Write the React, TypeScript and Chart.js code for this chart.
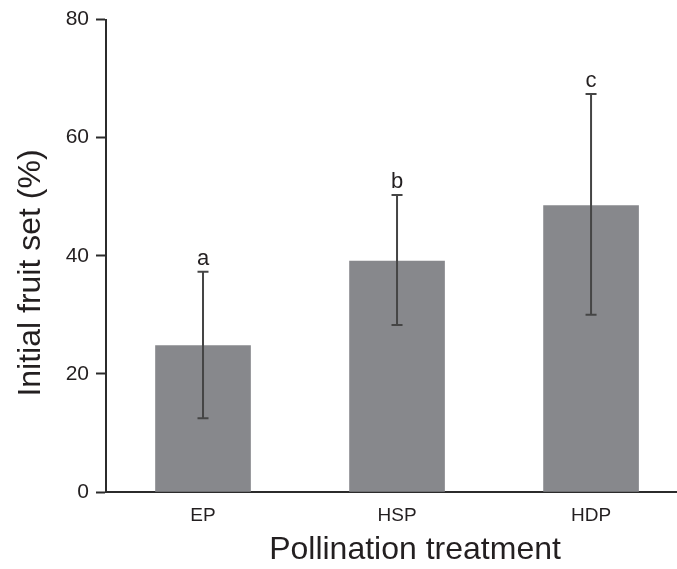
import React, { useEffect, useRef } from "react";
import { Chart, registerables } from "chart.js";

Chart.register(...registerables);

const categories = ["EP", "HSP", "HDP"];
const means = [24.8, 39.1, 48.5];
const upper = [37.3, 50.3, 67.4];
const lower = [12.5, 28.3, 30.0];
const letters = ["a", "b", "c"];
const yTicks = [0, 20, 40, 60, 80];
const xTitle = "Pollination treatment";
const yTitle = "Initial fruit set (%)";

const FONT = "'Liberation Sans', Arial, Helvetica, sans-serif";
const TEXT = "#231f20";
const AXIS = "#2b2b2b";

const errorPlugin = {
  id: "errorBars",
  afterDatasetsDraw(chart: any) {
    const { ctx, scales } = chart;
    const xs = scales.x;
    const ys = scales.y;
    ctx.save();
    ctx.strokeStyle = "#454545";
    ctx.lineWidth = 2;
    categories.forEach((_, i) => {
      const x = xs.getPixelForValue(i);
      const yt = ys.getPixelForValue(upper[i]);
      const yb = ys.getPixelForValue(lower[i]);
      ctx.beginPath();
      ctx.moveTo(x, yt);
      ctx.lineTo(x, yb);
      ctx.moveTo(x - 5.5, yt);
      ctx.lineTo(x + 5.5, yt);
      ctx.moveTo(x - 5.5, yb);
      ctx.lineTo(x + 5.5, yb);
      ctx.stroke();
      ctx.fillStyle = TEXT;
      ctx.font = `22px ${FONT}`;
      ctx.textAlign = "center";
      ctx.textBaseline = "alphabetic";
      ctx.fillText(letters[i], x, yt - 7);
    });
    ctx.restore();
  },
  afterDraw(chart: any) {
    const { ctx } = chart;
    ctx.save();
    ctx.fillStyle = TEXT;
    ctx.font = `32px ${FONT}`;
    ctx.textAlign = "center";
    ctx.textBaseline = "middle";
    ctx.fillText(xTitle, 415, 550.5);
    ctx.translate(31, 273);
    ctx.rotate(-Math.PI / 2);
    ctx.fillText(yTitle, 0, 0);
    ctx.restore();
  },
};

export default function App() {
  const ref = useRef<HTMLCanvasElement>(null);
  useEffect(() => {
    if (!ref.current) return;
    const chart = new Chart(ref.current, {
      type: "bar",
      data: {
        datasets: [
          {
            data: categories.map((_, i) => ({ x: i, y: means[i] })),
            backgroundColor: "#87888c",
            borderWidth: 0,
            barThickness: 95,
          },
        ],
      },
      options: {
        animation: false,
        responsive: false,
        devicePixelRatio: 1,
        layout: { padding: { top: 18, right: 0, bottom: 0, left: 0 } },
        plugins: { legend: { display: false }, tooltip: { enabled: false } },
        scales: {
          x: {
            type: "linear",
            offset: false,
            min: -0.5,
            max: 2.443,
            afterBuildTicks: (s: any) => {
              s.ticks = categories.map((_, i) => ({ value: i }));
            },
            afterFit: (s: any) => {
              s.height = 77;
            },
            grid: { display: true, drawOnChartArea: false, drawTicks: false, offset: false },
            border: { display: true, color: AXIS, width: 2 },
            ticks: {
              callback: (v: any) => categories[v] ?? "",
              color: TEXT,
              font: { family: FONT, size: 19 },
              padding: 12,
              maxRotation: 0,
              autoSkip: false,
            },
            title: { display: false },
          },
          y: {
            min: 0,
            max: 80,
            afterBuildTicks: (s: any) => {
              s.ticks = yTicks.map((v) => ({ value: v }));
            },
            afterFit: (s: any) => {
              s.width = 106;
            },
            grid: {
              display: true,
              drawOnChartArea: false,
              drawTicks: true,
              tickLength: 10,
              tickWidth: 2,
              tickColor: AXIS,
            },
            border: { display: true, color: AXIS, width: 2 },
            ticks: {
              color: TEXT,
              font: { family: FONT, size: 21 },
              padding: 7,
            },
            title: { display: false },
          },
        },
      },
      plugins: [errorPlugin],
    } as any);
    return () => chart.destroy();
  }, []);
  return (
    <div style={{ position: "fixed", left: 0, top: 0, width: 677, height: 569, background: "#fff" }}>
      <canvas ref={ref} width={677} height={569} style={{ width: 677, height: 569, display: "block" }} />
    </div>
  );
}
